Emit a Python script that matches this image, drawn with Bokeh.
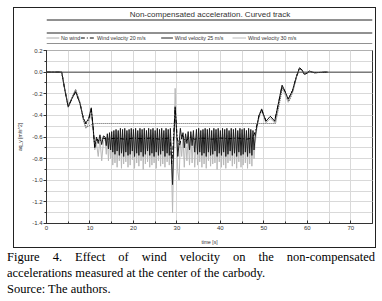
from bokeh.plotting import figure
from bokeh.models import SingleIntervalTicker, Span, Div, NumeralTickFormatter
from bokeh.core.properties import value
from bokeh.layouts import column
from bokeh.embed import file_html
from bokeh.resources import INLINE

# ---------------- data ----------------
TITLE = "Non-compensated acceleration. Curved track"
X_LABEL = "time [s]"
Y_LABEL = "aq_y [m/s^2]"
SERIES_NAMES = ["No wind", "Wind velocity 20 m/s", "Wind velocity 25 m/s", "Wind velocity 30 m/s"]

# No wind
t_nw = [0, 3.5, 4.2, 5.0, 5.8, 6.7, 7.7, 8.5, 9.05, 9.7, 10.4, 11.2, 12.0, 52.7, 53.5, 54.3,
        55.0, 55.8, 56.7, 57.5, 58.2, 58.8, 59.3, 59.9, 60.5, 61.1, 61.7, 64.7]
v_nw = [0, 0, -0.15, -0.31, -0.24, -0.16, -0.28, -0.44, -0.51, -0.50, -0.485, -0.475, -0.475,
        -0.475, -0.31, -0.14, -0.20, -0.27, -0.18, -0.05, 0.03, 0.02, -0.02, -0.01, 0.01, 0.0,
        -0.005, 0.0]

# Wind 20 m/s
t_20 = [0, 3.5, 4.2, 5.0, 5.8, 6.7, 7.7, 8.5, 9.05, 9.7, 10.3, 10.7, 11.1, 11.6, 12.2, 13.0,
        14.0, 16.0, 18.0, 20.0, 22.0, 24.0, 26.0, 28.0, 28.5, 28.8, 29.1, 29.6, 30.1, 30.6,
        31.2, 32.0, 33.0, 34.0, 36.0, 38.0, 40.0, 42.0, 44.0, 46.0, 47.5, 48.0, 48.4, 48.9,
        49.5, 50.0, 50.5, 51.0, 51.5, 52.0, 52.5, 53.3, 54.2, 54.9, 55.6, 56.6, 57.5, 58.2,
        58.8, 59.3, 59.9, 60.5, 61.1, 61.7, 64.7]
v_20 = [0, 0, -0.16, -0.32, -0.25, -0.18, -0.29, -0.43, -0.48, -0.44, -0.34, -0.50, -0.69,
        -0.62, -0.64, -0.61, -0.62, -0.61, -0.62, -0.61, -0.615, -0.61, -0.62, -0.61, -0.62,
        -0.85, -0.70, -0.33, -0.62, -0.68, -0.58, -0.64, -0.60, -0.62, -0.61, -0.62, -0.61,
        -0.615, -0.61, -0.62, -0.61, -0.55, -0.49, -0.40, -0.35, -0.40, -0.45, -0.43, -0.41,
        -0.43, -0.45, -0.30, -0.13, -0.18, -0.25, -0.17, -0.04, 0.04, 0.02, -0.02, -0.01,
        0.01, 0.0, -0.005, 0.0]

# Wind 25 m/s and 30 m/s: start, oscillating band A, disturbance, band B, end
t_start = [0, 3.5, 4.2, 5.0, 5.8, 6.7, 7.7, 8.5, 9.05, 9.7, 10.3, 10.7, 11.1, 11.5, 11.9, 12.3, 12.7, 13.1]
v25_start = [0, 0, -0.16, -0.32, -0.25, -0.18, -0.29, -0.43, -0.47, -0.43, -0.33, -0.50, -0.70,
             -0.60, -0.66, -0.58, -0.67, -0.59]
v30_start = [0, 0, -0.16, -0.33, -0.24, -0.16, -0.28, -0.45, -0.52, -0.47, -0.38, -0.52, -0.72,
             -0.66, -0.78, -0.62, -0.82, -0.64]

bandA_t0, bandB_t0, band_dt = 13.5, 34.5, 0.25
v25_bandA = [-0.60, -0.68, -0.57, -0.71, -0.56, -0.72, -0.55, -0.74, -0.54, -0.76,
             -0.53, -0.73, -0.54, -0.77, -0.52, -0.75, -0.53, -0.78, -0.52, -0.74,
             -0.54, -0.77, -0.53, -0.76, -0.52, -0.73, -0.53, -0.78, -0.52, -0.75,
             -0.54, -0.77, -0.52, -0.74, -0.53, -0.78, -0.52, -0.76, -0.54, -0.73,
             -0.52, -0.77, -0.53, -0.75, -0.52, -0.78, -0.54, -0.74, -0.52, -0.77,
             -0.53, -0.76, -0.52, -0.73, -0.54, -0.78, -0.52, -0.75, -0.53, -0.77,
             -0.52]
v30_bandA = [-0.62, -0.76, -0.60, -0.82, -0.59, -0.80, -0.58, -0.86, -0.57, -0.84,
             -0.58, -0.88, -0.56, -0.82, -0.57, -0.89, -0.56, -0.85, -0.58, -0.83,
             -0.56, -0.88, -0.57, -0.86, -0.56, -0.81, -0.58, -0.89, -0.56, -0.84,
             -0.57, -0.87, -0.56, -0.82, -0.58, -0.90, -0.56, -0.85, -0.57, -0.83,
             -0.56, -0.88, -0.58, -0.86, -0.56, -0.84, -0.57, -0.89, -0.56, -0.82,
             -0.58, -0.87, -0.56, -0.85, -0.57, -0.88, -0.56, -0.83, -0.58, -0.86,
             -0.57]

t_spike = [28.75, 29.0, 29.3, 29.6, 29.9, 30.2, 30.5, 30.8, 31.1, 31.4, 31.7, 32.0, 32.3,
           32.6, 32.9, 33.2, 33.5, 33.8, 34.1]
v25_spike = [-0.80, -1.04, -0.62, -0.32, -0.52, -0.78, -0.66, -0.52, -0.62, -0.56, -0.70,
             -0.57, -0.66, -0.55, -0.72, -0.55, -0.68, -0.54, -0.74]
v30_spike = [-0.85, -1.30, -0.70, -0.15, -0.55, -0.92, -1.00, -0.62, -0.78, -0.60, -0.88,
             -0.62, -0.82, -0.60, -0.86, -0.58, -0.84, -0.57, -0.88]

v25_bandB = [-0.53, -0.76, -0.52, -0.74, -0.54, -0.77, -0.53, -0.75, -0.52, -0.78,
             -0.53, -0.74, -0.52, -0.77, -0.54, -0.76, -0.52, -0.73, -0.53, -0.78,
             -0.52, -0.75, -0.54, -0.77, -0.52, -0.74, -0.53, -0.78, -0.52, -0.76,
             -0.54, -0.73, -0.52, -0.77, -0.53, -0.75, -0.52, -0.78, -0.54, -0.74,
             -0.52, -0.77, -0.53, -0.76, -0.52, -0.74, -0.54, -0.78, -0.52, -0.75,
             -0.53, -0.77, -0.54, -0.72]
v30_bandB = [-0.57, -0.86, -0.56, -0.83, -0.58, -0.88, -0.56, -0.85, -0.57, -0.89,
             -0.56, -0.82, -0.58, -0.87, -0.56, -0.85, -0.57, -0.84, -0.56, -0.90,
             -0.58, -0.83, -0.56, -0.88, -0.57, -0.86, -0.56, -0.89, -0.58, -0.84,
             -0.56, -0.82, -0.57, -0.87, -0.56, -0.85, -0.58, -0.89, -0.56, -0.83,
             -0.57, -0.88, -0.56, -0.86, -0.58, -0.84, -0.56, -0.89, -0.57, -0.85,
             -0.56, -0.87, -0.58, -0.80]

t_end = [48.0, 48.4, 48.9, 49.5, 50.0, 50.5, 51.0, 51.5, 52.0, 52.5, 53.3, 54.2, 54.9, 55.6,
         56.6, 57.5, 58.2, 58.8, 59.3, 59.9, 60.5, 61.1, 61.7, 64.7]
v25_end = [-0.60, -0.50, -0.40, -0.34, -0.40, -0.455, -0.43, -0.41, -0.43, -0.455, -0.30,
           -0.12, -0.18, -0.25, -0.17, -0.04, 0.04, 0.02, -0.02, -0.01, 0.01, 0.0, -0.005, 0.0]
v30_end = [-0.66, -0.52, -0.42, -0.36, -0.42, -0.47, -0.45, -0.43, -0.45, -0.47, -0.32,
           -0.14, -0.21, -0.28, -0.18, -0.05, 0.03, 0.02, -0.02, -0.01, 0.01, 0.0, -0.005, 0.0]

CAPTION_1 = "Figure 4. Effect of wind velocity on the non-compensated"
CAPTION_2 = "accelerations measured at the center of the carbody."
CAPTION_3 = "Source: The authors."


def assemble(start, bandA, spike, bandB, end):
    t = list(t_start)
    v = list(start)
    t += [bandA_t0 + band_dt * i for i in range(len(bandA))]
    v += bandA
    t += t_spike
    v += spike
    t += [bandB_t0 + band_dt * i for i in range(len(bandB))]
    v += bandB
    t += t_end
    v += end
    return t, v


t_25, v_25 = assemble(v25_start, v25_bandA, v25_spike, v25_bandB, v25_end)
t_30, v_30 = assemble(v30_start, v30_bandA, v30_spike, v30_bandB, v30_end)

# ---------------- styles ----------------
FONT = "Liberation Sans"
TXT = "#333333"
BOX = "#222222"
STYLES = [  # No wind, 20, 25, 30
    dict(line_color="#555555", line_width=1, line_dash="1 1"),
    dict(line_color="#000000", line_width=1, line_dash="4 2 1 2"),
    dict(line_color="#1e1e1e", line_width=1, line_dash="solid"),
    dict(line_color="#b8b8b8", line_width=1, line_dash="solid"),
]

# page geometry (pixels)
BOX_L, BOX_T = 13, 7          # outer box top-left border pixel
INNER_W = 361                 # inner width of the box
HEAD_H = 36                   # header (title band, empty band, legend band)
PLOT_H = 203                  # plot part of the box

# ---------------- header (title + legend bands) ----------------
X0 = BOX_L + 1                # first inner pixel column
Y0 = BOX_T + 1                # first inner pixel row
head = figure(width=INNER_W, height=HEAD_H, x_range=(X0, X0 + INNER_W),
              y_range=(Y0 + HEAD_H, Y0), output_backend="svg", toolbar_location=None,
              x_axis_type=None, y_axis_type=None, min_border=0,
              min_border_left=0, min_border_right=0, min_border_top=0, min_border_bottom=0)
head.grid.visible = False
head.outline_line_color = None
head.background_fill_color = "white"
head.border_fill_color = "white"

sep_rows = [19.5, 32.5, 43.5]
head.segment(x0=[X0] * 3, x1=[X0 + INNER_W] * 3, y0=sep_rows, y1=sep_rows,
             line_color=BOX, line_width=1)
head.text(x=[195], y=[13.8], text=[TITLE], text_align="center", text_baseline="middle",
          text_font=value(FONT), text_font_size="8px", text_color=TXT)

leg_glyph_x0 = [14, 52, 141, 220]
leg_glyph_x1 = [28, 68, 154, 235]
leg_text_x = [30, 70, 156, 237]
LEG_Y = 37.5
for name, st, gx0, gx1, tx in zip(SERIES_NAMES, STYLES, leg_glyph_x0, leg_glyph_x1, leg_text_x):
    head.segment(x0=[gx0], x1=[gx1], y0=[LEG_Y], y1=[LEG_Y], **st)
    head.text(x=[tx], y=[LEG_Y + 0.3], text=[name], text_align="left", text_baseline="middle",
              text_font=value(FONT), text_font_size="5.3px", text_color=TXT)

# ---------------- main plot ----------------
FRAME_L, FRAME_R, FRAME_T, FRAME_B = 43, 372, 50, 224   # page pixels
p = figure(width=INNER_W, height=PLOT_H, x_range=(0, 75), y_range=(-1.4001, 0.2001),
           output_backend="svg", toolbar_location=None,
           min_border_left=FRAME_L - X0, min_border_right=X0 + INNER_W - FRAME_R,
           min_border_top=FRAME_T - (Y0 + HEAD_H), min_border_bottom=Y0 + HEAD_H + PLOT_H - FRAME_B)
p.background_fill_color = "white"
p.border_fill_color = "white"
p.outline_line_color = "#333333"
p.outline_line_width = 1

p.xaxis.ticker = SingleIntervalTicker(interval=10, num_minor_ticks=2)
p.yaxis.ticker = SingleIntervalTicker(interval=0.2, num_minor_ticks=2)
p.yaxis.formatter = NumeralTickFormatter(format="0.0")

for ax in (p.xaxis[0], p.yaxis[0]):
    ax.axis_line_color = "#333333"
    ax.major_tick_line_color = "#333333"
    ax.minor_tick_line_color = "#333333"
    ax.major_label_text_font = FONT
    ax.major_label_text_font_size = "6px"
    ax.major_label_text_color = TXT
    ax.axis_label_text_font = FONT
    ax.axis_label_text_font_size = "5px"
    ax.axis_label_text_font_style = "normal"
    ax.axis_label_text_color = TXT

p.xaxis.major_tick_in = 3
p.xaxis.major_tick_out = 0
p.xaxis.minor_tick_in = 2
p.xaxis.minor_tick_out = 0
p.xaxis.major_label_standoff = 2
p.xaxis.axis_label = X_LABEL
p.xaxis.axis_label_standoff = 6

p.yaxis.major_tick_in = 0
p.yaxis.major_tick_out = 3
p.yaxis.minor_tick_in = 0
p.yaxis.minor_tick_out = 2
p.yaxis.major_label_standoff = 1
p.yaxis.axis_label = Y_LABEL
p.yaxis.axis_label_standoff = 6

for g in (p.xgrid[0], p.ygrid[0]):
    g.grid_line_color = "#d9d9d9"
    g.minor_grid_line_color = "#d9d9d9"
    g.grid_line_width = 1
    g.minor_grid_line_width = 1

p.add_layout(Span(location=0, dimension="width", line_color="#444444", line_width=1))

p.line(t_30, v_30, **STYLES[3])
p.line(t_25, v_25, **STYLES[2])
p.line(t_20, v_20, **STYLES[1])
p.line(t_nw, v_nw, **STYLES[0])

# outer box drawn as the border of the column holding header + plot
boxed = column(head, p, spacing=0, margin=(BOX_T, 0, 0, BOX_L),
               styles={"border": f"1px solid {BOX}"})

caption = Div(
    text=(
        '<div style="font-family:\'Liberation Serif\'; font-size:12.5px; line-height:16px; '
        'color:#000; width:368px; margin-left:7px; margin-top:1px;">'
        f'<div style="text-align:justify; text-align-last:justify;">{CAPTION_1}</div>'
        f'<div>{CAPTION_2}</div>'
        f'<div>{CAPTION_3}</div>'
        '</div>'
    ),
    width=382, height=52, margin=(0, 0, 0, 0))

layout = column(boxed, caption, spacing=0)

open("out.html", "w").write(file_html(layout, INLINE))
